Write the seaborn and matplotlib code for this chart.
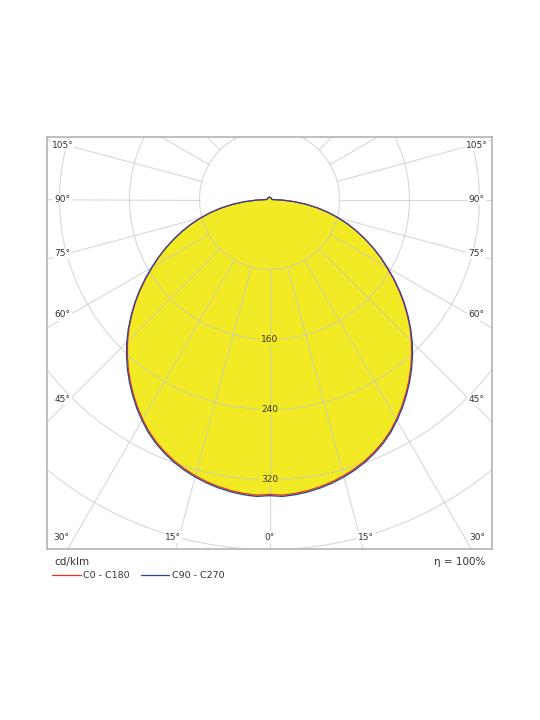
import numpy as np
import matplotlib
matplotlib.use("Agg")
import matplotlib.pyplot as plt
import seaborn as sns
from matplotlib.patches import Circle
from matplotlib.lines import Line2D

# luminous intensity, cd/klm (gamma in degrees)
gamma = [0, 2.5, 5, 7.5, 10, 12.5, 15, 17.5, 20, 22.5, 25, 27.5, 30, 32.5, 35, 37.5, 40, 42.5,
         45, 47.5, 50, 52.5, 55, 57.5, 60, 62.5, 65, 67.5, 70, 72.5, 75, 77.5, 80, 82.5, 85,
         87.5, 90, 105, 120, 135, 150, 165, 180]
c0_c180 = [337, 338.2, 337.2, 335.6, 333.3, 330.4, 326.9, 322.8, 318, 312.3, 306, 298.6, 290,
           281, 271.4, 261.5, 251.2, 240.4, 229.3, 217.9, 205.5, 193.2, 180.4, 167.4, 154.6,
           142.7, 130.3, 118, 105.9, 93.8, 81.3, 69.2, 56.1, 42.6, 28.7, 14.5, 3,
           2.5, 2.5, 2.5, 2.5, 2.5, 2.5]
c90_c270 = [338.5, 339.7, 338.7, 337.1, 334.8, 331.9, 328.4, 324.3, 319.5, 313.8, 307.5, 300.1,
            291.5, 282.5, 272.9, 263, 252.7, 241.9, 230.8, 218.9, 206.5, 194.2, 181.4, 168.4,
            155.6, 143.2, 130.8, 118.5, 106.4, 94.3, 81.8, 69.2, 56.1, 42.6, 28.7, 14.5, 3,
            2.5, 2.5, 2.5, 2.5, 2.5, 2.5]

rings = [80, 160, 240, 320, 400, 480]
ring_labels = [160, 240, 320]
angle_labels = [0, 15, 30, 45, 60, 75, 90, 105]

sns.set_style("white")
plt.rcParams["font.family"] = ["DejaVu Sans"]

YELLOW = "#f1ea24"
RED = "#e3321e"
BLUE = "#2b44a0"
TXT = "#333333"

fig = plt.figure(figsize=(5.4, 7.2), dpi=100)
ax = fig.add_axes([47 / 540, 1 - 549 / 720, 445 / 540, 412 / 720])

scale = 0.875  # px per cd
ax.set_xlim(-222.5 / scale, 222.5 / scale)
ax.set_ylim(-349.5 / scale, 62.5 / scale)
ax.set_aspect("equal")


def curve(vals):
    g = np.array(gamma[::-1] + gamma[1:], dtype=float)
    g[:len(gamma)] *= -1
    v = np.array(vals[::-1] + vals[1:], dtype=float)
    t = np.radians(g)
    return v * np.sin(t), -v * np.cos(t)


x0, y0 = curve(c0_c180)
x9, y9 = curve(c90_c270)

ax.fill(x9, y9, color=YELLOW, lw=0, zorder=1)

grid_kw = dict(color="#c4c4c4", lw=0.8, alpha=0.65, zorder=2)
for r in rings:
    ax.add_patch(Circle((0, 0), r, fill=False, **grid_kw))
for a in range(0, 360, 15):
    t = np.radians(a)
    ax.plot([80 * np.sin(t), 700 * np.sin(t)], [-80 * np.cos(t), -700 * np.cos(t)], **grid_kw)

sns.lineplot(x=x0, y=y0, sort=False, estimator=None, color=RED, lw=0.9, ax=ax, zorder=3)
sns.lineplot(x=x9, y=y9, sort=False, estimator=None, color=BLUE, lw=0.9, ax=ax, zorder=4)

for r in ring_labels:
    ax.text(0, -r, str(r), ha="center", va="center", fontsize=6.5, color=TXT, zorder=5,
            bbox=dict(facecolor=YELLOW, edgecolor="none", pad=0.6))

# angle labels along the frame, next to where each ray leaves the plot
side_x = 207 / scale
side_ref = 200 / scale
bottom_y = 337.5 / scale
bottom_ref = 360 / scale
for a in angle_labels:
    t = np.radians(a)
    for s in ([1] if a == 0 else [-1, 1]):
        if a <= 30:
            lx, ly = s * bottom_ref * np.tan(t), -bottom_y
        else:
            lx, ly = s * side_x, -side_ref / np.tan(t)
        ax.text(lx, ly, f"{a}°", ha="center", va="center", fontsize=6.5, color=TXT,
                zorder=6, bbox=dict(facecolor="white", edgecolor="none", pad=0.8))

ax.set_xticks([])
ax.set_yticks([])
for sp in ax.spines.values():
    sp.set_color("#b4b4b4")
    sp.set_linewidth(1.2)

fig.text(54 / 540, 1 - 562 / 720, "cd/klm", fontsize=7.5, color=TXT, va="center")
fig.text(485 / 540, 1 - 562 / 720, "η = 100%", fontsize=7.5, color=TXT, va="center", ha="right")
fig.add_artist(Line2D([52 / 540, 81 / 540], [1 - 575 / 720] * 2, color=RED, lw=0.9))
fig.text(83 / 540, 1 - 575 / 720, "C0 - C180", fontsize=6.8, color=TXT, va="center")
fig.add_artist(Line2D([141 / 540, 169 / 540], [1 - 575 / 720] * 2, color=BLUE, lw=0.9))
fig.text(172 / 540, 1 - 575 / 720, "C90 - C270", fontsize=6.8, color=TXT, va="center")

fig.savefig("out.png", dpi=100)
